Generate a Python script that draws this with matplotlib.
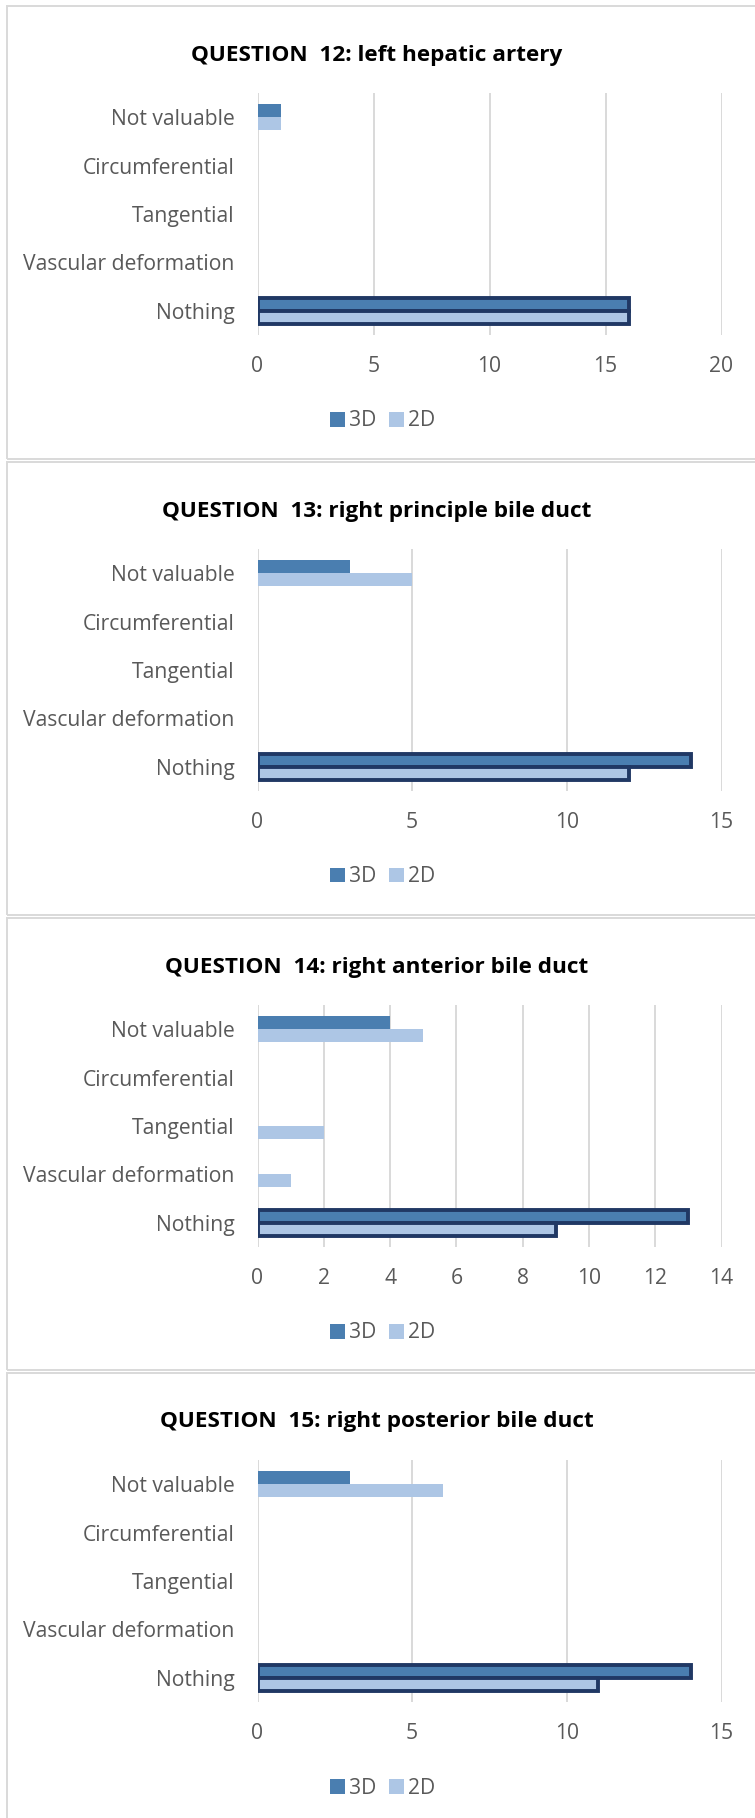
import matplotlib
matplotlib.use("Agg")
import matplotlib.pyplot as plt
from matplotlib.patches import Rectangle, Patch
import numpy as np

plt.rcParams['font.family'] = ['Open Sans', 'DejaVu Sans']

# ---- data -------------------------------------------------------------
categories = ["Not valuable", "Circumferential", "Tangential",
              "Vascular deformation", "Nothing"]
series_names = ["3D", "2D"]

titles = [
    "QUESTION  12: left hepatic artery",
    "QUESTION  13: right principle bile duct",
    "QUESTION  14: right anterior bile duct",
    "QUESTION  15: right posterior bile duct",
]

q12_3d = [1, 0, 0, 0, 16]
q12_2d = [1, 0, 0, 0, 16]
q13_3d = [3, 0, 0, 0, 14]
q13_2d = [5, 0, 0, 0, 12]
q14_3d = [4, 0, 0, 0, 13]
q14_2d = [5, 0, 2, 1, 9]
q15_3d = [3, 0, 0, 0, 14]
q15_2d = [6, 0, 0, 0, 11]

x_max = [20, 15, 14, 15]
x_step = [5, 5, 2, 5]

panels = [
    (q12_3d, q12_2d),
    (q13_3d, q13_2d),
    (q14_3d, q14_2d),
    (q15_3d, q15_2d),
]

# ---- style --------------------------------------------------------------
C3D = "#4A7EB0"
C2D = "#ADC6E5"
OUTLINE = "#203864"
GRID = "#D9D9D9"
TEXT = "#595959"

W, H = 755, 1818
fig = plt.figure(figsize=(W / 100, H / 100), dpi=100)
fig.patch.set_facecolor("white")


def fx(px):
    return px / W


def fy(py):
    return 1 - py / H


panel_tops = [6, 462, 918, 1373]
panel_bottoms = [459, 915, 1370, 1830]
ax_left, ax_right = 257.5, 721.5
bar_h = 0.27
label_size = 15.2
title_size = 16.2

for i, ((s3d, s2d), top, bottom) in enumerate(zip(panels, panel_tops, panel_bottoms)):
    # panel frame
    fig.patches.append(Rectangle((fx(6.5), fy(bottom)), fx(800) - fx(6.5),
                                 fy(top) - fy(bottom), transform=fig.transFigure,
                                 facecolor="none", edgecolor=GRID, lw=1.4, zorder=0))

    ax_top = top + 87
    ax_bot = top + 329
    ax = fig.add_axes([fx(ax_left), fy(ax_bot), fx(ax_right) - fx(ax_left),
                       fy(ax_top) - fy(ax_bot)])
    ypos = np.arange(len(categories))
    last = len(categories) - 1
    for j, (v3, v2) in enumerate(zip(s3d, s2d)):
        emph = j == last
        kw = dict(edgecolor=OUTLINE, linewidth=2.8) if emph else dict(linewidth=0)
        if v3:
            ax.barh(ypos[j] - bar_h / 2, v3, height=bar_h, color=C3D, zorder=3, **kw)
        if v2:
            ax.barh(ypos[j] + bar_h / 2, v2, height=bar_h, color=C2D, zorder=3, **kw)

    ax.set_xlim(0, x_max[i])
    ax.set_ylim(len(categories) - 0.5, -0.5)
    ax.set_xticks(np.arange(0, x_max[i] + 0.01, x_step[i]))
    ax.set_yticks(ypos)
    ax.set_yticklabels(categories)
    ax.tick_params(axis="both", length=0, labelsize=label_size, labelcolor=TEXT)
    ax.tick_params(axis="y", pad=16.5)
    ax.tick_params(axis="x", pad=15)
    for sp in ax.spines.values():
        sp.set_visible(False)
    ax.grid(axis="x", color=GRID, lw=1.4, zorder=0)
    ax.set_axisbelow(True)

    fig.text(fx(377), fy(top + 49), titles[i], ha="center", va="center",
             fontsize=title_size, fontweight="bold", color="black")

    handles = [Patch(facecolor=C3D, edgecolor="none"),
               Patch(facecolor=C2D, edgecolor="none")]
    fig.legend(handles, series_names, loc="center",
               bbox_to_anchor=(fx(383), fy(top + 415)), ncol=2, frameon=False,
               fontsize=label_size, labelcolor=TEXT, handlelength=0.7,
               handleheight=0.7, handletextpad=0.2, columnspacing=0.6)

fig.savefig("out.png", dpi=100, facecolor="white")
